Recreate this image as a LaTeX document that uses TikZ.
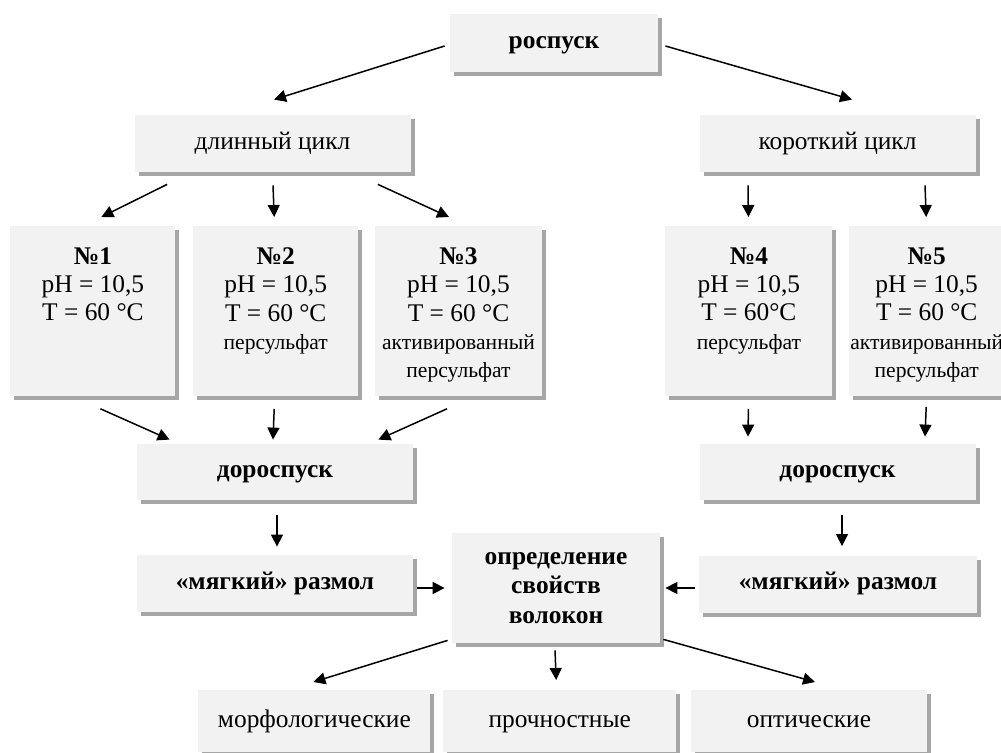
\documentclass[tikz,border=0pt]{standalone}
\usepackage{fontspec}
\setmainfont{Liberation Serif}
\usepackage{tikz}
\usetikzlibrary{arrows.meta, positioning, calc, shadows}

\definecolor{boxgray}{HTML}{F2F2F2}
\definecolor{shadowgray}{HTML}{A6A6A6}
\newcommand{\smalltxt}{\fontsize{10.8}{14}\selectfont}

\begin{document}
\begin{tikzpicture}[
      x=0.5pt, y=-0.5pt,
      font=\fontsize{12.7}{14.2}\selectfont,
      box/.style={fill=boxgray, inner sep=0pt, align=center,
                  drop shadow={shadow xshift=2pt, shadow yshift=-2pt,
                               fill=shadowgray, opacity=1}},
      oneline/.style={text height=8.6pt, text depth=2.8pt},
      wide/.style={box, oneline, minimum width=138pt, minimum height=28.5pt},
      boldbox/.style={box, font=\fontsize{12.7}{14.6}\selectfont\bfseries},
      numbox/.style={box, anchor=north west, minimum width=82.5pt,
                     minimum height=85pt},
      numtext/.style={anchor=north, inner sep=0pt, align=center},
      propbox/.style={box, oneline, anchor=north west, minimum height=31pt},
      line/.style={draw, line width=0.75pt, -{Triangle[length=6pt, width=6pt]}}
  ]
      \clip (0,0) rectangle (1001,753);

      % stages
      \node (rospusk) [boldbox, oneline, minimum width=104pt, minimum height=29pt]
          at (554,43) {роспуск};
      \node (dlinny)  [wide] at (272.5,143.5) {длинный цикл};
      \node (korotky) [wide] at (837.5,143.5) {короткий цикл};

      % variants
      \node (n1) [numbox] at (10,226) {};
      \node (n2) [numbox, right=8.5pt of n1] {};
      \node (n3) [numbox, minimum width=83.5pt, right=8pt of n2] {};
      \node (n4) [numbox, minimum width=83.5pt] at (665,226) {};
      \node (n5) [numbox, right=8pt of n4] {};

      \node (n1t) [numtext] at ($(n1.north)+(0,21)$)
          {{\bfseries №1}\\pH = 10,5\\T = 60 °C};
      \node (n2t) [numtext] at ($(n2.north)+(0,21)$)
          {{\bfseries №2}\\pH = 10,5\\T = 60 °C\\\smalltxt персульфат};
      \node (n3t) [numtext] at ($(n3.north)+(0,21)$)
          {{\bfseries №3}\\pH = 10,5\\T = 60 °C\\\smalltxt активированный\\
           \smalltxt персульфат};
      \node (n4t) [numtext] at ($(n4.north)+(0,21)$)
          {{\bfseries №4}\\pH = 10,5\\T = 60°C\\\smalltxt персульфат};
      \node (n5t) [numtext] at ($(n5.north)+(-5,21)$)
          {{\bfseries №5}\\pH = 10,5\\T = 60 °C\\\smalltxt активированный\\
           \smalltxt персульфат};

      \node (dorL) [wide, boldbox, minimum height=28pt] at (275,472) {дороспуск};
      \node (dorR) [wide, boldbox, minimum height=28pt] at (837.5,472) {дороспуск};
      \node (myagL) [wide, boldbox] at (275,583.5) {«мягкий» размол};
      \node (myagR) [wide, boldbox, minimum width=139pt] at (838,584)
          {«мягкий» размол};
      \node (opred) [boldbox, minimum width=104pt, minimum height=55pt]
          at (556,588) {определение\\свойств\\волокон};

      % properties
      \node (morf)  [propbox, minimum width=116pt] at (198,690) {морфологические};
      \node (proch) [propbox, minimum width=116.5pt, right=6pt of morf] {прочностные};
      \node (opt)   [propbox, minimum width=118pt, right=7pt of proch] {оптические};

      \draw [line] ($(rospusk.west)+(-5,3)$) -- ($(dlinny.north)+(1.5,-15)$);
      \draw [line] ($(rospusk.east)+(7,3)$) -- ($(korotky.north)+(14.5,-15)$);

      \draw [line] ($(dlinny.south west)+(33,12)$) -- ($(n1.north)+(8.5,-9)$);
      \draw [line] ($(dlinny.south)+(0.5,13)$) -- ($(n2.north)+(-1.5,-9)$);
      \draw [line] ($(dlinny.south east)+(-33,12)$) -- ($(n3.north)+(-9.5,-9)$);
      \draw [line] ($(korotky.south)+(-89.5,13)$) -- ($(n4.north)+(-0.5,-9)$);
      \draw [line] ($(korotky.south)+(87.5,13)$) -- ($(n5.north)+(-5.5,-9)$);

      \draw [line] ($(n1.south)+(7.5,12)$) -- ($(dorL.north west)+(33,-4)$);
      \draw [line] ($(n2.south)+(-1.5,12)$) -- ($(dorL.north)+(-2,-4)$);
      \draw [line] ($(n3.south)+(-11.5,12)$) -- ($(dorL.north east)+(-35,-4)$);
      \draw [line] ($(n4.south)+(-0.5,12)$) -- ($(dorR.north)+(-89.5,-7)$);
      \draw [line] ($(n5.south)+(-5.5,10)$) -- ($(dorR.north)+(87.5,-7)$);

      \draw [line] ($(dorL.south)+(2,15)$) -- ($(myagL.north)+(2,-8)$);
      \draw [line] ($(dorR.south)+(4.5,15)$) -- ($(myagR.north)+(4,-9)$);
      \draw [line] ($(myagL.east)+(4,4.5)$) -- ($(opred.west)+(-7,0)$);
      \draw [line] ($(myagR.west)+(-4,4)$) -- ($(opred.east)+(5,0)$);

      \draw [line] ($(opred.south west)+(-4,-3)$) -- ($(morf.north)+(-1,-8)$);
      \draw [line] ($(opred.south)+(-1,7)$) -- ($(proch.north)+(-3.5,-10)$);
      \draw [line] ($(opred.south east)+(3,-4)$) -- ($(opt.north)+(6,-8)$);
  \end{tikzpicture}
\end{document}
